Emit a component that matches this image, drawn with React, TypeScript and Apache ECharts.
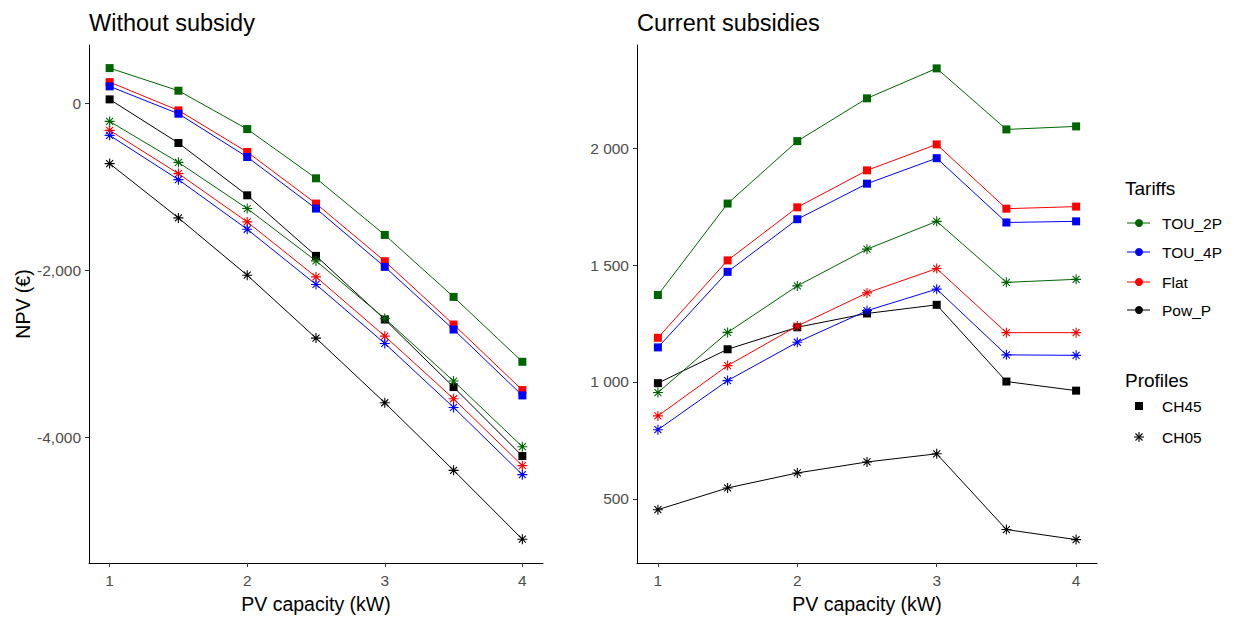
import React, { useEffect, useRef } from "react";
import * as echarts from "echarts";

const capacity = [1, 1.5, 2, 2.5, 3, 3.5, 4];
const xTicks = [1, 2, 3, 4];
const leftTicks = [-4000, -2000, 0];
const rightTicks = [500, 1000, 1500, 2000];

const tariffs = ["TOU_2P", "TOU_4P", "Flat", "Pow_P"];
const profiles = ["CH45", "CH05"];
const tariffColors = ["#006400", "#0000FF", "#FF0000", "#000000"];

// Without subsidy (NPV, €)
const noSub_TOU2P_CH45 = [423, 152, -308, -898, -1577, -2320, -3098];
const noSub_TOU4P_CH45 = [204, -124, -643, -1261, -1960, -2711, -3501];
const noSub_Flat_CH45 = [255, -84, -583, -1201, -1892, -2651, -3437];
const noSub_PowP_CH45 = [48, -475, -1102, -1828, -2591, -3401, -4228];
const noSub_TOU2P_CH05 = [-216, -707, -1261, -1888, -2579, -3329, -4116];
const noSub_TOU4P_CH05 = [-383, -914, -1509, -2171, -2878, -3645, -4451];
const noSub_Flat_CH05 = [-323, -842, -1421, -2080, -2790, -3541, -4343];
const noSub_PowP_CH05 = [-722, -1373, -2060, -2814, -3589, -4399, -5225];

// Current subsidies (NPV, €)
const sub_TOU2P_CH45 = [1372, 1763, 2030, 2213, 2341, 2080, 2093];
const sub_TOU4P_CH45 = [1148, 1471, 1696, 1848, 1957, 1682, 1687];
const sub_Flat_CH45 = [1189, 1520, 1747, 1905, 2016, 1741, 1750];
const sub_PowP_CH45 = [995, 1140, 1234, 1293, 1330, 1002, 963];
const sub_TOU2P_CH05 = [955, 1212, 1411, 1568, 1687, 1426, 1439];
const sub_TOU4P_CH05 = [796, 1006, 1170, 1305, 1397, 1116, 1114];
const sub_Flat_CH05 = [855, 1070, 1239, 1381, 1485, 1211, 1211];
const sub_PowP_CH05 = [454, 547, 611, 658, 693, 369, 326];

const noSubData: number[][][] = [
  [noSub_TOU2P_CH45, noSub_TOU2P_CH05],
  [noSub_TOU4P_CH45, noSub_TOU4P_CH05],
  [noSub_Flat_CH45, noSub_Flat_CH05],
  [noSub_PowP_CH45, noSub_PowP_CH05],
];
const subData: number[][][] = [
  [sub_TOU2P_CH45, sub_TOU2P_CH05],
  [sub_TOU4P_CH45, sub_TOU4P_CH05],
  [sub_Flat_CH45, sub_Flat_CH05],
  [sub_PowP_CH45, sub_PowP_CH05],
];

const FONT = "'Liberation Sans', Arial, sans-serif";
const ASTERISK =
  "path://M5,0L5,10M0,5L10,5M1.5,1.5L8.5,8.5M1.5,8.5L8.5,1.5";

function makeSeries(data: number[][][], axisIndex: number) {
  const out: any[] = [];
  const order = [3, 2, 1, 0];
  order.forEach((ti) => {
    profiles.forEach((p, pi) => {
      const c = tariffColors[ti];
      out.push({
        type: "line",
        name: tariffs[ti] + " " + p,
        xAxisIndex: axisIndex,
        yAxisIndex: axisIndex,
        data: capacity.map((x, i) => [x, data[ti][pi][i]]),
        symbol: pi === 0 ? "rect" : ASTERISK,
        symbolSize: pi === 0 ? 8 : 10,
        showAllSymbol: true,
        lineStyle: { color: c, width: 1 },
        itemStyle:
          pi === 0
            ? { color: c, borderWidth: 0 }
            : { color: "none", borderColor: c, borderWidth: 1.1 },
        emphasis: { disabled: true },
        z: 2,
      });
    });
  });
  return out;
}

function xAxis(gridIndex: number) {
  return {
    type: "value",
    gridIndex,
    min: 0.85,
    max: 4.15,
    name: "PV capacity (kW)",
    nameLocation: "middle",
    nameGap: 31,
    nameTextStyle: { fontFamily: FONT, fontSize: 19.5, color: "#000" },
    axisLine: { show: true, onZero: false, lineStyle: { color: "#000", width: 1 } },
    axisTick: { show: true, length: 4, customValues: xTicks, lineStyle: { color: "#333" } },
    axisLabel: {
      customValues: xTicks,
      margin: 9,
      fontFamily: FONT,
      fontSize: 15.5,
      color: "#4D4D4D",
      formatter: (v: number) => String(v),
    },
    splitLine: { show: false },
  };
}

function yAxis(gridIndex: number, min: number, max: number, ticks: number[], fmt: (v: number) => string, name: string) {
  return {
    type: "value",
    gridIndex,
    min,
    max,
    name,
    nameLocation: "middle",
    nameGap: 56,
    nameTextStyle: { fontFamily: FONT, fontSize: 19.5, color: "#000" },
    axisLine: { show: true, onZero: false, lineStyle: { color: "#000", width: 1 } },
    axisTick: { show: true, length: 4, customValues: ticks, lineStyle: { color: "#333" } },
    axisLabel: {
      customValues: ticks,
      margin: 8,
      fontFamily: FONT,
      fontSize: 15.5,
      color: "#4D4D4D",
      formatter: fmt,
    },
    splitLine: { show: false },
  };
}

const fmtComma = (v: number) => {
  const s = Math.abs(v).toString().replace(/\B(?=(\d{3})+(?!\d))/g, ",");
  return (v < 0 ? "-" : "") + s;
};
const fmtSpace = (v: number) => v.toString().replace(/\B(?=(\d{3})+(?!\d))/g, " ");

function legendGraphics() {
  const els: any[] = [];
  const lx = 1127;
  const cx = 1139;
  const tx = 1162;
  els.push({
    type: "text",
    left: 1125,
    top: 179,
    style: { text: "Tariffs", fontFamily: FONT, fontSize: 19, fill: "#000" },
  });
  const ys = [223, 252, 282, 310];
  tariffs.forEach((t, i) => {
    const y = ys[i];
    els.push({ type: "line", shape: { x1: lx, y1: y, x2: lx + 23, y2: y }, style: { stroke: tariffColors[i], lineWidth: 1 } });
    els.push({ type: "circle", shape: { cx, cy: y, r: 4 }, style: { fill: tariffColors[i] } });
    els.push({
      type: "text",
      x: tx,
      y,
      style: { text: t, fontFamily: FONT, fontSize: 15.5, fill: "#000", verticalAlign: "middle" },
    });
  });
  els.push({
    type: "text",
    left: 1125,
    top: 371,
    style: { text: "Profiles", fontFamily: FONT, fontSize: 19, fill: "#000" },
  });
  const py = [406, 437];
  els.push({ type: "rect", shape: { x: cx - 4, y: py[0] - 4, width: 8, height: 8 }, style: { fill: "#000" } });
  const a = 5;
  const d = 3.5;
  [
    [cx, py[1] - a, cx, py[1] + a],
    [cx - a, py[1], cx + a, py[1]],
    [cx - d, py[1] - d, cx + d, py[1] + d],
    [cx - d, py[1] + d, cx + d, py[1] - d],
  ].forEach((l) => {
    els.push({ type: "line", shape: { x1: l[0], y1: l[1], x2: l[2], y2: l[3] }, style: { stroke: "#000", lineWidth: 1.1 } });
  });
  profiles.forEach((p, i) => {
    els.push({
      type: "text",
      x: tx,
      y: py[i],
      style: { text: p, fontFamily: FONT, fontSize: 15.5, fill: "#000", verticalAlign: "middle" },
    });
  });
  return els;
}

export default function App() {
  const ref = useRef<HTMLDivElement>(null);
  useEffect(() => {
    if (!ref.current) return;
    const chart = echarts.init(ref.current, null, { renderer: "svg" });
    chart.setOption({
      animation: false,
      backgroundColor: "#fff",
      textStyle: { fontFamily: FONT },
      title: [
        { text: "Without subsidy", left: 89, top: 11, padding: 0, textStyle: { fontFamily: FONT, fontSize: 23.5, fontWeight: "normal", color: "#000" } },
        { text: "Current subsidies", left: 637, top: 11, padding: 0, textStyle: { fontFamily: FONT, fontSize: 23.5, fontWeight: "normal", color: "#000" } },
      ],
      grid: [
        { left: 89, top: 45, width: 454, height: 518 },
        { left: 637, top: 45, width: 460, height: 518 },
      ],
      xAxis: [xAxis(0), xAxis(1)],
      yAxis: [
        yAxis(0, -5510, 700, leftTicks, fmtComma, "NPV (€)"),
        yAxis(1, 226, 2441, rightTicks, fmtSpace, ""),
      ],
      series: [...makeSeries(noSubData, 0), ...makeSeries(subData, 1)],
      graphic: legendGraphics(),
    });
    return () => chart.dispose();
  }, []);
  return (
    <div
      ref={ref}
      style={{ position: "fixed", left: 0, top: 0, width: 1234, height: 619, background: "#fff" }}
    />
  );
}
